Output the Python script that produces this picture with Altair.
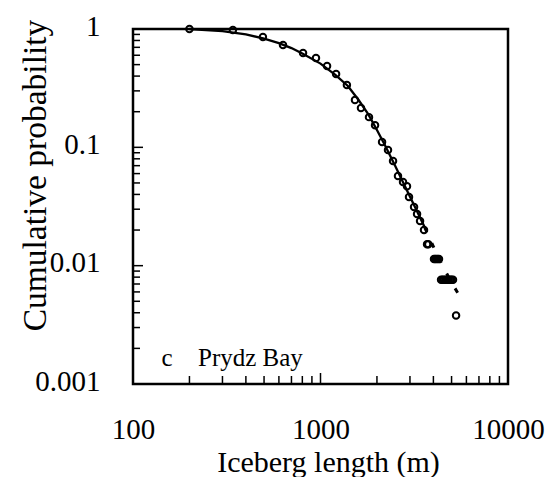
import altair as alt
import pandas as pd

# Observed points (iceberg length in m, cumulative probability)
length_m = [200, 341, 493, 631, 807, 946, 1084, 1211, 1383, 1527, 1644, 1814, 1954,
            2130, 2291, 2437, 2590, 2755, 2893, 2965, 3155, 3273, 3396, 3565, 3700, 3760,
            4030, 4090, 4150, 4215, 4285,
            4395, 4480, 4560, 4650, 4740, 4830, 4920, 5000, 5090, 5285]
cum_prob = [1.0, 0.98, 0.856, 0.732, 0.627, 0.569, 0.487, 0.417, 0.336, 0.251, 0.215,
            0.180, 0.154, 0.111, 0.095, 0.0766, 0.0572, 0.051, 0.047, 0.038, 0.0313,
            0.0273, 0.0238, 0.020, 0.0152, 0.0152,
            0.0114, 0.0114, 0.0114, 0.0114, 0.0114,
            0.0076, 0.0076, 0.0076, 0.0076, 0.0076, 0.0076, 0.0076, 0.0076, 0.0076, 0.0038]

# Fitted curve (solid part and dashed extension)
fit_x = [200, 300, 400, 500, 600, 700, 800, 1000, 1200, 1400, 1600, 1800, 2000,
         2200, 2500, 2800, 3200, 3600]
fit_y = [1.0, 0.96, 0.90, 0.83, 0.76, 0.69, 0.62, 0.51, 0.41, 0.33, 0.25, 0.19, 0.14,
         0.105, 0.07, 0.048, 0.031, 0.021]
ext_x = [3600, 4000, 4500, 5000, 5700]
ext_y = [0.021, 0.0145, 0.0098, 0.0072, 0.0051]

# Axis tick values
x_labels = [100, 1000, 10000]
y_labels = [0.001, 0.01, 0.1, 1]
x_minor = [200, 300, 400, 500, 600, 700, 800, 900,
           2000, 3000, 4000, 5000, 6000, 7000, 8000, 9000]
x_major = [1000]
y_minor = [0.002, 0.003, 0.004, 0.005, 0.006, 0.007, 0.008, 0.009,
           0.02, 0.03, 0.04, 0.05, 0.06, 0.07, 0.08, 0.09,
           0.2, 0.3, 0.4, 0.5, 0.6, 0.7, 0.8, 0.9]
y_major = [0.01, 0.1]

W, H = 375, 355
FONT = "Liberation Serif"

xscale = alt.Scale(type="log", domain=[100, 10000], nice=False)
yscale = alt.Scale(type="log", domain=[0.001, 1], nice=False)

pts = pd.DataFrame({"x": length_m, "y": cum_prob})
fit = pd.DataFrame({"x": fit_x, "y": fit_y})
ext = pd.DataFrame({"x": ext_x, "y": ext_y})

x_axis = alt.Axis(values=x_labels, format="d", grid=False, domain=False, ticks=False,
                  labelFont=FONT, labelFontSize=29, labelColor="black", labelPadding=31,
                  labelFlush=False, title="Iceberg length (m)", titleFont=FONT,
                  titleFontSize=30, titleFontWeight="normal", titleColor="black",
                  titleX=195, titleY=63, titleBaseline="top", titleAlign="center")
y_axis = alt.Axis(values=y_labels, format="~g", grid=False, domain=False, ticks=False,
                  labelFont=FONT, labelFontSize=29, labelColor="black", labelPadding=33,
                  labelFlush=False, labelOffset=-3,
                  title="Cumulative probability", titleFont=FONT, titleFontSize=33.5,
                  titleFontWeight="normal", titleColor="black", titleAngle=-90,
                  titleX=-98, titleY=146, titleBaseline="middle", titleAlign="center")

X = lambda f: alt.X(f, scale=xscale, axis=x_axis)
Y = lambda f: alt.Y(f, scale=yscale, axis=y_axis)

points = alt.Chart(pts).mark_point(shape="circle", filled=False, color="black",
                                   strokeWidth=2, size=42, opacity=1).encode(
    x=X("x:Q"), y=Y("y:Q"))

fit_line = alt.Chart(fit).mark_line(color="black", strokeWidth=2.3).encode(
    x=X("x:Q"), y=Y("y:Q"))
ext_line = alt.Chart(ext).mark_line(color="black", strokeWidth=3, strokeDash=[5, 12]).encode(
    x=X("x:Q"), y=Y("y:Q"))

xminor = alt.Chart(pd.DataFrame({"x": x_minor})).mark_rule(color="black", strokeWidth=1.5).encode(
    x=X("x:Q"), y=alt.value(H), y2=alt.value(H - 8))
xmajor = alt.Chart(pd.DataFrame({"x": x_major})).mark_rule(color="black", strokeWidth=1.5).encode(
    x=X("x:Q"), y=alt.value(H), y2=alt.value(H - 11))
yminor = alt.Chart(pd.DataFrame({"y": y_minor})).mark_rule(color="black", strokeWidth=1.5).encode(
    y=Y("y:Q"), x=alt.value(0), x2=alt.value(7))
ymajor = alt.Chart(pd.DataFrame({"y": y_major})).mark_rule(color="black", strokeWidth=1.5).encode(
    y=Y("y:Q"), x=alt.value(0), x2=alt.value(10))

label_c = alt.Chart(pd.DataFrame({"t": ["c"]})).mark_text(
    font=FONT, fontSize=25, color="black", align="center", baseline="middle").encode(
    text="t:N", x=alt.value(34), y=alt.value(329))
label_bay = alt.Chart(pd.DataFrame({"t": ["Prydz Bay"]})).mark_text(
    font=FONT, fontSize=25, color="black", align="left", baseline="middle").encode(
    text="t:N", x=alt.value(65), y=alt.value(329))

chart = alt.layer(xminor, xmajor, yminor, ymajor, fit_line, ext_line, points,
                  label_c, label_bay).properties(
    width=W, height=H,
    autosize=alt.AutoSizeParams(type="none"),
    padding={"left": 125, "top": 21, "right": 44, "bottom": 100},
).configure_view(stroke="black", strokeWidth=2.5)

chart.save("out.html", embed_options={"renderer": "svg", "actions": False})
